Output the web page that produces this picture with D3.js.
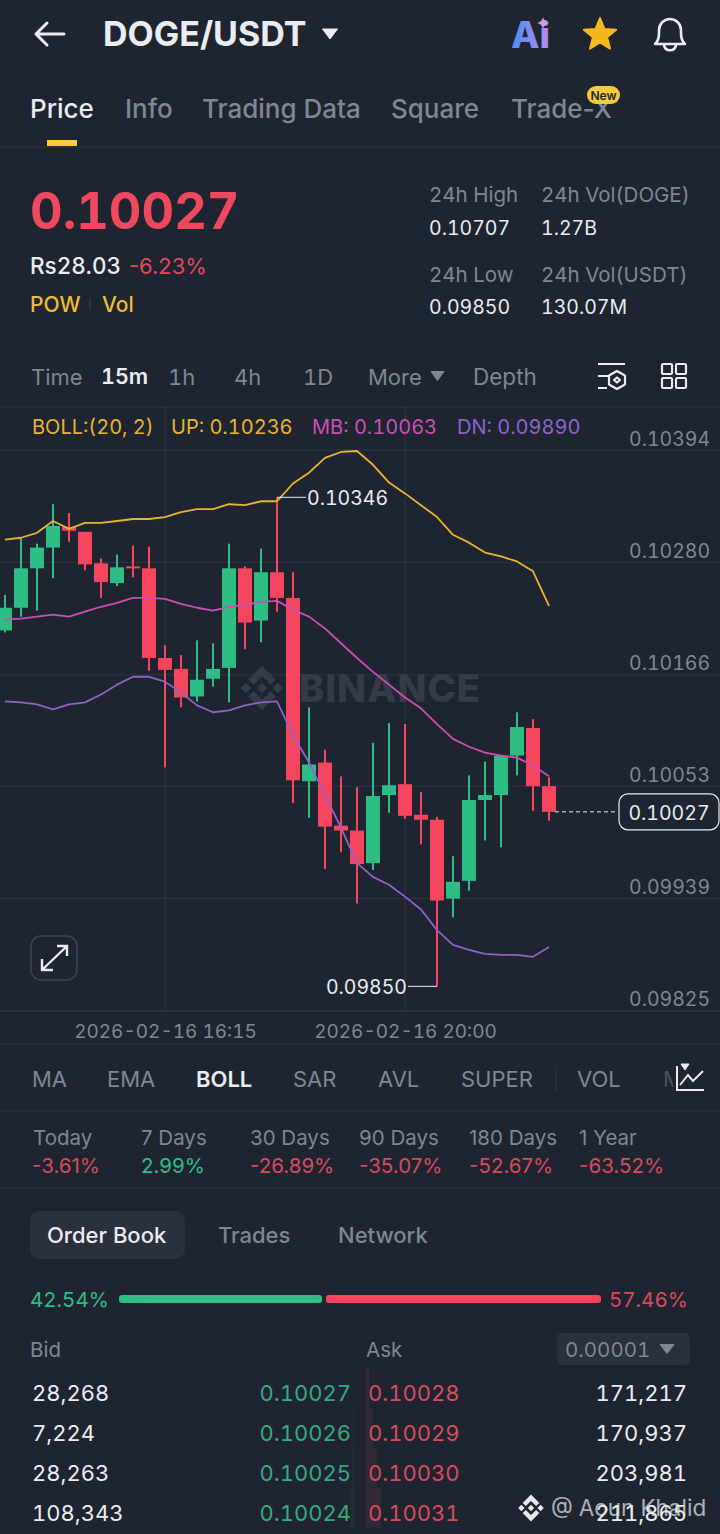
<!DOCTYPE html>
<html>
<head>
<meta charset="utf-8">
<title>DOGE/USDT</title>
<script src="https://cdn.jsdelivr.net/npm/d3@7"></script>
<style>
  html, body { margin: 0; padding: 0; background: #1e2530; }
  svg { display: block; }
  text { font-family: Inter, "Noto Sans", sans-serif; font-variant-numeric: tabular-nums; }
</style>
</head>
<body>
<svg width="720" height="1534"></svg>
<script>
  // candles, 15m apart, 13:45 onwards
  var opens = [0.10211,0.10234,0.10274,0.10295,0.10316,0.10311,0.10279,0.10259,0.10276,0.10274,0.10183,0.10172,0.10144,0.10162,0.10173,0.10274,0.10221,0.10270,0.10244,0.10058,0.10077,0.10013,0.10008,0.09975,0.10044,0.10055,0.10024,0.10019,0.09939,0.09957,0.10039,0.10044,0.10084,0.10112,0.10053];
  var closes = [0.10234,0.10274,0.10295,0.10317,0.10312,0.10278,0.10260,0.10275,0.10274,0.10183,0.10171,0.10143,0.10161,0.10172,0.10274,0.10219,0.10270,0.10244,0.10059,0.10075,0.10012,0.10008,0.09974,0.10043,0.10054,0.10023,0.10019,0.09937,0.09956,0.10039,0.10044,0.10084,0.10113,0.10053,0.10027];
  var highs = [0.10247,0.10305,0.10299,0.10339,0.10330,0.10311,0.10284,0.10288,0.10297,0.10296,0.10196,0.10186,0.10201,0.10198,0.10299,0.10276,0.10294,0.10346,0.10270,0.10133,0.10090,0.10063,0.10052,0.10097,0.10117,0.10116,0.10047,0.10022,0.09982,0.10064,0.10078,0.10085,0.10128,0.10121,0.10062];
  var lows = [0.10209,0.10225,0.10231,0.10264,0.10301,0.10272,0.10244,0.10256,0.10265,0.10170,0.10072,0.10133,0.10139,0.10154,0.10138,0.10192,0.10199,0.10230,0.10036,0.10021,0.09969,0.09986,0.09934,0.09968,0.10026,0.10020,0.09994,0.09850,0.09920,0.09947,0.09998,0.09991,0.10064,0.10028,0.10018];

  // bollinger bands
  var bollUp = [0.10303,0.10305,0.10310,0.10322,0.10314,0.10320,0.10320,0.10322,0.10324,0.10324,0.10326,0.10331,0.10334,0.10334,0.10339,0.10338,0.10342,0.10342,0.10360,0.10371,0.10386,0.10392,0.10393,0.10379,0.10361,0.10350,0.10338,0.10326,0.10308,0.10300,0.10290,0.10286,0.10281,0.10271,0.10236];
  var bollMb = [0.10222,0.10223,0.10225,0.10227,0.10225,0.10230,0.10235,0.10239,0.10244,0.10244,0.10243,0.10238,0.10234,0.10231,0.10235,0.10237,0.10240,0.10241,0.10232,0.10225,0.10213,0.10198,0.10183,0.10169,0.10156,0.10143,0.10132,0.10116,0.10101,0.10093,0.10087,0.10084,0.10082,0.10074,0.10063];
  var bollDn = [0.10139,0.10138,0.10136,0.10131,0.10136,0.10138,0.10146,0.10156,0.10164,0.10164,0.10159,0.10148,0.10135,0.10128,0.10130,0.10135,0.10138,0.10139,0.10105,0.10077,0.10044,0.10011,0.09975,0.09961,0.09953,0.09941,0.09928,0.09907,0.09892,0.09887,0.09883,0.09882,0.09882,0.09880,0.09890];

  var yTicks = [0.10394,0.10280,0.10166,0.10053,0.09939,0.09825];
  var xTickIndex = [10,25];
  var xTickLabels = ["2026-02-16 16:15","2026-02-16 20:00"];

  var periodNames = ["Today","7 Days","30 Days","90 Days","180 Days","1 Year"];
  var periodValues = ["-3.61%","2.99%","-26.89%","-35.07%","-52.67%","-63.52%"];

  var bidQty = ["28,268","7,224","28,263","108,343"];
  var bidPrice = ["0.10027","0.10026","0.10025","0.10024"];
  var askPrice = ["0.10028","0.10029","0.10030","0.10031"];
  var askQty = ["171,217","170,937","203,981","211,865"];
  var bidShare = 42.54;

  var green = "#2ebd85", red = "#f6465d", yellow = "#f0b90b",
      grey = "#7f8791", white = "#eaecef", line = "#2e3541";

  var svg = d3.select("svg");

  var defs = svg.append("defs");
  var grad = defs.append("linearGradient").attr("id", "aiGrad").attr("x1", 0).attr("x2", 1).attr("y1", 0).attr("y2", 0);
  grad.append("stop").attr("offset", "0%").attr("stop-color", "#4f8cf5");
  grad.append("stop").attr("offset", "100%").attr("stop-color", "#b58cf0");
  defs.append("clipPath").attr("id", "mClip").append("rect").attr("x", 655).attr("y", 1060).attr("width", 18).attr("height", 40);

  function label(x, y, s, size, fill, weight, anchor) {
    return svg.append("text")
      .attr("x", x).attr("y", y)
      .attr("font-size", size)
      .attr("font-weight", weight || 400)
      .attr("text-anchor", anchor || "start")
      .attr("fill", fill)
      .text(s);
  }

  function hline(y) {
    svg.append("line").attr("x1", 0).attr("x2", 720).attr("y1", y).attr("y2", y).attr("stroke", line).attr("stroke-width", 1);
  }

  function caret(cx, cy, w, h, fill) {
    svg.append("path")
      .attr("d", "M" + (cx - w / 2) + "," + (cy - h / 2) + "L" + (cx + w / 2) + "," + (cy - h / 2) + "L" + cx + "," + (cy + h / 2) + "Z")
      .attr("fill", fill)
      .attr("stroke", fill).attr("stroke-width", 1).attr("stroke-linejoin", "round");
  }

  // binance mark: centre and side diamonds, chevrons top and bottom
  function logo(g, cx, cy, s, fill) {
    var shape = "M0,-4.2L2.6,-1.6L1.6,-0.6L0,-2.2L-1.6,-0.6L-2.6,-1.6Z" +
      "M0,4.2L2.6,1.6L1.6,0.6L0,2.2L-1.6,0.6L-2.6,1.6Z" +
      "M0,-1L1,0L0,1L-1,0Z" +
      "M-3,-1L-2,0L-3,1L-4,0Z" +
      "M3,-1L4,0L3,1L2,0Z";
    g.append("path").attr("d", shape).attr("fill", fill)
      .attr("transform", "translate(" + cx + "," + cy + ") scale(" + s + ")");
  }

  // ---- header
  svg.append("path").attr("d", "M64,34H37M47,23L36,34L47,45")
    .attr("fill", "none").attr("stroke", white).attr("stroke-width", 3).attr("stroke-linecap", "round").attr("stroke-linejoin", "round");
  label(103, 46, "DOGE/USDT", 34, white, 700);
  caret(330, 34, 15, 10, white);

  label(511, 48, "Ai", 37, "url(#aiGrad)", 800);
  svg.append("path").attr("d", "M543,17Q544,22 549,23Q544,24 543,29Q542,24 537,23Q542,22 543,17Z").attr("fill", "#c79bf0");

  var star = d3.range(10).map(function(i) {
    var r = i % 2 ? 7.5 : 17, a = i * Math.PI / 5;
    return [600 + r * Math.sin(a), 35 - r * Math.cos(a)];
  });
  svg.append("path").attr("d", d3.line()(star) + "Z").attr("fill", "#f4b91f").attr("stroke", "#f4b91f").attr("stroke-width", 2).attr("stroke-linejoin", "round");

  svg.append("path")
    .attr("d", "M655,44C660,40 659,33 659,30C659,24 664,19 670,19C676,19 681,24 681,30C681,33 680,40 685,44Z M664,45C665,52 675,52 676,45")
    .attr("fill", "none").attr("stroke", white).attr("stroke-width", 2.6).attr("stroke-linejoin", "round");

  // ---- tabs
  label(30, 118, "Price", 26, white, 500);
  label(125, 118, "Info", 26, grey, 500);
  label(202, 118, "Trading Data", 26, grey, 500);
  label(391, 118, "Square", 26, grey, 500);
  label(511, 118, "Trade-X", 26, grey, 500).style("font-variant-numeric", "normal");
  svg.append("rect").attr("x", 587).attr("y", 86).attr("width", 33).attr("height", 18).attr("rx", 9).attr("fill", "#f5cc3a");
  label(603.5, 100, "New", 12, "#1e2530", 600, "middle");
  svg.append("rect").attr("x", 47).attr("y", 140).attr("width", 30).attr("height", 6).attr("fill", "#f5cc3a");
  hline(147);

  // ---- price block
  label(30, 229, "0.10027", 50.5, "#f0495f", 700);
  label(30, 274, "Rs28.03", 22.5, white, 500);
  label(129, 274, "-6.23%", 22, "#e0485c", 400).style("font-variant-numeric", "normal");
  label(30, 312, "POW", 21, "#eebb32", 500);
  svg.append("line").attr("x1", 90).attr("x2", 90).attr("y1", 298).attr("y2", 310).attr("stroke", "#3a414c");
  label(102, 312, "Vol", 21, "#eebb32", 500);

  label(429, 202, "24h High", 20.5, grey);
  label(541, 202, "24h Vol(DOGE)", 20.5, grey);
  label(429, 235, "0.10707", 19.5, white);
  label(541, 235, "1.27B", 19.5, white);
  label(429, 282, "24h Low", 20.5, grey);
  label(541, 282, "24h Vol(USDT)", 20.5, grey);
  label(429, 314, "0.09850", 19.5, white);
  label(541, 314, "130.07M", 19.5, white);

  // ---- interval row
  label(31, 385, "Time", 22, grey);
  label(101, 384, "15m", 21.5, white, 600);
  label(168, 385, "1h", 22, grey);
  label(234, 385, "4h", 22, grey);
  label(303, 385, "1D", 22, grey);
  label(368, 385, "More", 22, grey);
  caret(437.5, 376, 13, 9, grey);
  label(473, 385, "Depth", 22.5, grey);

  svg.append("path").attr("d", "M598,364H625M598,376H609M598,388H607M617,371L625,375.5V384.5L617,389L609,384.5V375.5Z M617,377.5L620,380L617,382.5L614,380Z")
    .attr("fill", "none").attr("stroke", white).attr("stroke-width", 2.2).attr("stroke-linejoin", "round");
  svg.selectAll(null).data([[662, 364], [676, 364], [662, 378], [676, 378]]).enter().append("rect")
    .attr("x", function(d) { return d[0]; }).attr("y", function(d) { return d[1]; })
    .attr("width", 10).attr("height", 10).attr("rx", 1)
    .attr("fill", "none").attr("stroke", white).attr("stroke-width", 2.2);

  hline(407);

  // ---- chart
  var y = d3.scaleLinear().domain([0.10394, 0.09825]).range([450, 1011]);
  var x = d3.scaleLinear().domain([0, 34]).range([5, 549]);
  var candleW = 14;

  var grid = svg.append("g");
  grid.selectAll("line.h").data(yTicks).enter().append("line").attr("class", "h")
    .attr("x1", 0).attr("x2", 720)
    .attr("y1", function(d) { return y(d); }).attr("y2", function(d) { return y(d); })
    .attr("stroke", line).attr("stroke-width", 1);
  grid.selectAll("line.v").data(xTickIndex).enter().append("line").attr("class", "v")
    .attr("x1", function(d) { return x(d); }).attr("x2", function(d) { return x(d); })
    .attr("y1", 407).attr("y2", 1011)
    .attr("stroke", line).attr("stroke-width", 1);

  // watermark sits under the candles
  var mark = svg.append("g");
  logo(mark, 262, 688, 5.3, "#343b47");
  mark.append("text").attr("x", 299).attr("y", 702).attr("font-size", 38).attr("font-weight", 800)
    .attr("letter-spacing", 1).attr("fill", "#343b47").text("BINANCE");

  var candles = svg.append("g").selectAll("g").data(d3.range(opens.length)).enter().append("g")
    .attr("fill", function(i) { return closes[i] > opens[i] ? green : red; });
  candles.append("rect")
    .attr("x", function(i) { return x(i) - 1; })
    .attr("width", 2)
    .attr("y", function(i) { return y(highs[i]); })
    .attr("height", function(i) { return y(lows[i]) - y(highs[i]); });
  candles.append("rect")
    .attr("x", function(i) { return x(i) - candleW / 2; })
    .attr("width", candleW)
    .attr("y", function(i) { return y(Math.max(opens[i], closes[i])); })
    .attr("height", function(i) { return Math.max(2, Math.abs(y(opens[i]) - y(closes[i]))); });

  var bollLine = d3.line().x(function(d, i) { return x(i); }).y(function(d) { return y(d); });
  [[bollUp, "#e6b52e"], [bollMb, "#cb4fb2"], [bollDn, "#8e63c6"]].forEach(function(s) {
    svg.append("path").attr("d", bollLine(s[0])).attr("fill", "none").attr("stroke", s[1]).attr("stroke-width", 1.8).attr("stroke-linejoin", "round");
  });

  label(32, 434, "BOLL:(20, 2)", 20, "#e6b52e");
  label(171, 434, "UP: " + d3.format(".5f")(bollUp[34]), 20, "#e6b52e");
  label(312, 434, "MB: " + d3.format(".5f")(bollMb[34]), 20, "#cb4fb2");
  label(457, 434, "DN: " + d3.format(".5f")(bollDn[34]), 20, "#8e63c6");

  // y axis labels sit above their grid lines
  var yAxis = svg.append("g").attr("transform", "translate(629,0)")
    .call(d3.axisRight(y).tickValues(yTicks).tickSize(0).tickPadding(0).tickFormat(d3.format(".5f")));
  yAxis.select(".domain").remove();
  yAxis.selectAll("text")
    .attr("dy", null)
    .attr("y", function(d) { return d === 0.09825 ? -6 : -5; })
    .attr("font-size", 19.5)
    .attr("font-family", null)
    .attr("fill", grey);

  var xAxis = svg.append("g").attr("transform", "translate(0,1038)")
    .call(d3.axisBottom(x).tickValues(xTickIndex).tickSize(0).tickPadding(0).tickFormat(function(d, i) { return xTickLabels[i]; }));
  xAxis.select(".domain").remove();
  xAxis.selectAll("text")
    .attr("dy", null)
    .attr("y", 0)
    .attr("font-size", 19)
    .attr("font-family", null)
    .attr("fill", grey);

  // high / low callouts
  var hi = d3.max(highs), lo = d3.min(lows);
  svg.append("line").attr("x1", x(highs.indexOf(hi))).attr("x2", 306).attr("y1", y(hi)).attr("y2", y(hi)).attr("stroke", white);
  label(307, y(hi) + 8, d3.format(".5f")(hi), 19.5, white);
  svg.append("line").attr("x1", 408).attr("x2", x(lows.indexOf(lo))).attr("y1", y(lo)).attr("y2", y(lo)).attr("stroke", white);
  label(407, y(lo) + 8, d3.format(".5f")(lo), 19.5, white, 400, "end");

  // last price tag
  var last = closes[closes.length - 1];
  svg.append("line").attr("x1", 555).attr("x2", 618).attr("y1", y(last)).attr("y2", y(last))
    .attr("stroke", white).attr("stroke-dasharray", "4,3");
  svg.append("rect").attr("x", 619).attr("y", y(last) - 18).attr("width", 100).attr("height", 36).attr("rx", 9)
    .attr("fill", "#1e2530").attr("stroke", white).attr("stroke-width", 1.2);
  label(669, y(last) + 8, d3.format(".5f")(last), 19.5, white, 400, "middle");

  // expand button
  svg.append("rect").attr("x", 31).attr("y", 936).attr("width", 46).attr("height", 44).attr("rx", 10)
    .attr("fill", "#1e2530").attr("stroke", "#3d4450").attr("stroke-width", 1.5);
  svg.append("path").attr("d", "M43,969L66,947M57,946H67V956M42,959V970H53")
    .attr("fill", "none").attr("stroke", white).attr("stroke-width", 2.4);

  hline(1011);
  hline(1044);

  // ---- indicator row
  var indicatorNames = ["MA","EMA","BOLL","SAR","AVL","SUPER","VOL"];
  var indicatorX = [32,107,196,293,378,461,577];
  indicatorNames.forEach(function(n, i) {
    label(indicatorX[i], 1087, n, 22, n === "BOLL" ? white : grey, n === "BOLL" ? 600 : 400);
  });
  svg.append("line").attr("x1", 556).attr("x2", 556).attr("y1", 1066).attr("y2", 1092).attr("stroke", line);
  label(663, 1087, "MA", 22, "#4a515c").attr("clip-path", "url(#mClip)");
  svg.append("path").attr("d", "M677,1066V1090H704M680,1085L688,1075L693,1081L703,1071")
    .attr("fill", "none").attr("stroke", white).attr("stroke-width", 2);
  caret(685, 1067, 8, 6, white);
  hline(1111);

  // ---- period performance
  var periodX = [33,141,250,359,469,579];
  periodNames.forEach(function(n, i) {
    label(periodX[i], 1145, n, 20.5, grey).style("font-variant-numeric", "normal");
    label(periodX[i] - (i === 0 ? 1 : 0), 1173, periodValues[i], 20.5, periodValues[i][0] === "-" ? "#d84a5c" : green)
      .style("font-variant-numeric", "normal");
  });
  hline(1188);

  // ---- order book
  svg.append("rect").attr("x", 30).attr("y", 1211).attr("width", 155).attr("height", 48).attr("rx", 10).attr("fill", "#2a303c");
  label(47, 1243, "Order Book", 22, white, 500);
  label(218, 1243, "Trades", 22, grey, 500);
  label(338, 1243, "Network", 22, grey, 500);

  var share = d3.scaleLinear().domain([0, 100]).range([119, 601]);
  label(30, 1307, d3.format(".2f")(bidShare) + "%", 20.5, green);
  svg.append("rect").attr("x", share(0)).attr("y", 1295).attr("height", 8).attr("rx", 3)
    .attr("width", share(bidShare) - share(0) - 2).attr("fill", green);
  svg.append("rect").attr("x", share(bidShare) + 2).attr("y", 1295).attr("height", 8).attr("rx", 3)
    .attr("width", share(100) - share(bidShare) - 2).attr("fill", red);
  label(609, 1307, d3.format(".2f")(100 - bidShare) + "%", 20.5, "#d84a5c");

  label(30, 1357, "Bid", 20.5, grey);
  label(366, 1357, "Ask", 20.5, grey);
  svg.append("rect").attr("x", 557).attr("y", 1333).attr("width", 133).attr("height", 32).attr("rx", 5).attr("fill", "#2a303c");
  label(565, 1357, "0.00001", 20.5, grey);
  caret(667, 1349, 14, 9, grey);

  // depth shading comes from the running totals of the quantities
  function num(s) { return +s.replace(/,/g, ""); }
  var bidCum = d3.cumsum(bidQty.map(num)), askCum = d3.cumsum(askQty.map(num));
  var depth = d3.scaleLinear().domain([0, d3.max(askCum)]).range([0, 15]);
  var rowY = d3.scaleLinear().domain([0, 3]).range([1368, 1488]);
  svg.selectAll(null).data(askCum).enter().append("rect")
    .attr("x", 366).attr("y", function(d, i) { return rowY(i); })
    .attr("width", function(d) { return depth(d); }).attr("height", 40)
    .attr("fill", red).attr("opacity", 0.1);
  svg.selectAll(null).data(bidCum).enter().append("rect")
    .attr("x", function(d) { return 354 - depth(d); }).attr("y", function(d, i) { return rowY(i); })
    .attr("width", function(d) { return depth(d); }).attr("height", 40)
    .attr("fill", green).attr("opacity", 0.08);

  bidQty.forEach(function(q, i) {
    var by = 1401 + i * 40;
    label(32, by, q, 22, white);
    label(351, by, bidPrice[i], 22, "#34a97c", 400, "end");
    label(368, by, askPrice[i], 22, "#d84a5c");
    label(687, by, askQty[i], 22, white, 400, "end");
  });

  // screenshot watermark over the last row
  logo(svg.append("g"), 531, 1508, 3.2, "#e8e8e8");
  label(551, 1516, "@ Aoun Khalid", 22.5, "#e6e6e6").attr("opacity", 0.72);
</script>
</body>
</html>
